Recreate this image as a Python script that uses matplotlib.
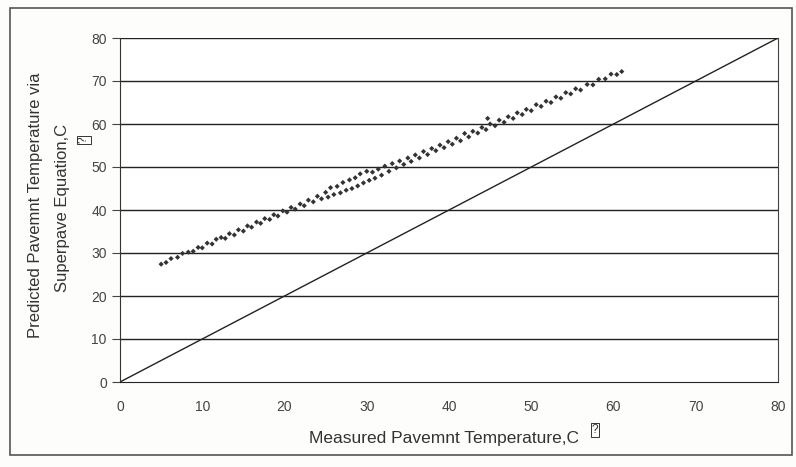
import matplotlib
matplotlib.use("Agg")
import matplotlib.pyplot as plt
from matplotlib.patches import Rectangle

plt.rcParams['font.family'] = ['Liberation Sans', 'DejaVu Sans']

# measured vs predicted pavement temperature (C)
measured = [5.0, 5.6, 6.2, 7.0, 7.6, 8.3, 8.9, 9.5, 10.0, 10.6, 11.2, 11.7,
            12.3, 12.8, 13.3, 13.9, 14.4, 15.0, 15.5, 16.0, 16.6, 17.1, 17.6,
            18.2, 18.7, 19.2, 19.8, 20.3, 20.8, 21.3, 21.9, 22.4, 22.9, 23.5,
            24.0, 24.5, 25.0, 25.3, 25.6, 26.0, 26.4, 26.8, 27.1, 27.5, 27.9,
            28.2, 28.6, 28.9, 29.2, 29.6, 30.0, 30.3, 30.7, 31.0, 31.4, 31.8,
            32.2, 32.7, 33.1, 33.6, 34.0, 34.5, 35.0, 35.4, 35.9, 36.4, 36.9,
            37.4, 37.9, 38.4, 38.9, 39.4, 39.9, 40.4, 40.9, 41.4, 41.9, 42.4,
            42.9, 43.5, 44.0, 44.5, 44.7, 45.0, 45.6, 46.1, 46.7, 47.2, 47.8,
            48.3, 48.9, 49.4, 50.0, 50.6, 51.2, 51.8, 52.4, 53.0, 53.6, 54.2,
            54.8, 55.4, 56.0, 56.8, 57.5, 58.2, 59.0, 59.7, 60.4, 61.0]
predicted = [27.4, 27.8, 28.7, 29.0, 29.9, 30.2, 30.4, 31.3, 31.2, 32.3, 32.1,
             33.2, 33.6, 33.4, 34.5, 34.2, 35.4, 35.1, 36.3, 36.0, 37.2, 36.9,
             38.0, 37.8, 38.9, 38.6, 39.8, 39.5, 40.6, 40.2, 41.4, 41.0, 42.3,
             41.9, 43.2, 42.6, 44.1, 43.0, 45.2, 43.6, 45.5, 44.0, 46.4, 44.6,
             47.0, 45.0, 47.5, 45.6, 48.4, 46.3, 49.0, 46.9, 48.8, 47.4, 49.5,
             48.1, 50.2, 49.0, 50.8, 49.8, 51.4, 50.6, 52.1, 51.3, 52.8, 52.1,
             53.6, 52.9, 54.3, 53.8, 55.1, 54.5, 55.9, 55.3, 56.7, 56.1, 57.8,
             57.0, 58.3, 57.9, 59.2, 58.7, 61.3, 60.0, 59.6, 60.9, 60.4, 61.7,
             61.3, 62.6, 62.2, 63.4, 63.1, 64.5, 64.1, 65.3, 65.0, 66.3, 66.0,
             67.3, 67.0, 68.2, 67.9, 69.2, 69.1, 70.4, 70.5, 71.6, 71.5, 72.2]

equality = [0, 80]
ticks = [0, 10, 20, 30, 40, 50, 60, 70, 80]

fig = plt.figure(figsize=(7.96, 4.67), dpi=100)
fig.patch.set_facecolor('#fdfdfb')

# outer chart frame
fig.patches.append(Rectangle((10 / 796, 12 / 467), 0.995 - 10 / 796, 1 - 20 / 467,
                             transform=fig.transFigure, fill=False,
                             edgecolor='#555555', linewidth=1.2))

ax = fig.add_axes([120 / 796, 1 - 382 / 467, 658 / 796, 344 / 467])
ax.set_facecolor('white')

# horizontal gridlines at every major tick
for t in ticks[1:]:
    ax.axhline(t, color='#222222', linewidth=1.0, zorder=1)

ax.plot(equality, equality, color='#222222', linewidth=1.0, zorder=2)
ax.scatter(measured, predicted, marker='D', s=7, color='#333333',
           edgecolors='none', zorder=3)

ax.set_xlim(0, 80)
ax.set_ylim(0, 80)
ax.set_xticks(ticks)
ax.set_yticks(ticks)
ax.tick_params(axis='both', labelsize=10, colors='#444444', length=6, width=0.8)
ax.tick_params(axis='x', length=0, pad=13)

ax.spines['top'].set_visible(False)
ax.spines['right'].set_color('#444444')
ax.spines['left'].set_color('#333333')
ax.spines['bottom'].set_color('#222222')

# labels placed in figure pixels so the boxed glyphs sit next to them
fig.text(444 / 796, 1 - 438 / 467, 'Measured Pavemnt Temperature,C',
         fontsize=12.5, color='#333333', ha='center', va='center')
fig.text(36 / 796, 1 - 205 / 467, 'Predicted Pavemnt Temperature via',
         fontsize=12, color='#333333', ha='center', va='center', rotation=90)
fig.text(62 / 796, 1 - 208 / 467, 'Superpave Equation,C',
         fontsize=12, color='#333333', ha='center', va='center', rotation=90)

# the unrendered degree glyphs shown as small boxed question marks
fig.text(595 / 796, 1 - 430 / 467, '?', fontsize=8.5, color='#333333',
         ha='center', va='center',
         bbox=dict(boxstyle='square,pad=0.1', fc='white', ec='#333333', lw=0.7))
fig.text(84 / 796, 1 - 140 / 467, '?', fontsize=8.5, color='#333333',
         ha='center', va='center', rotation=90,
         bbox=dict(boxstyle='square,pad=0.1', fc='white', ec='#333333', lw=0.7))

fig.savefig('out.png', dpi=100, facecolor=fig.get_facecolor())
